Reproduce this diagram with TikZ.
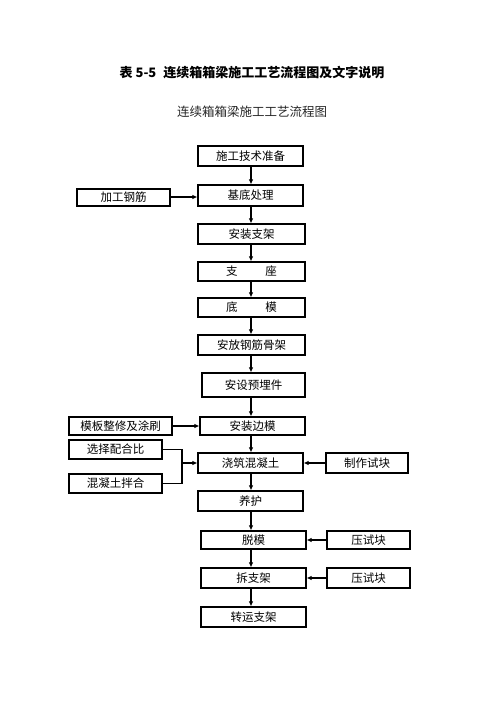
\documentclass[tikz,border=0pt]{standalone}
\usepackage{fontspec}
\setmainfont{Noto Sans CJK SC}
\newfontfamily\cjk{Noto Sans CJK SC}
\usetikzlibrary{arrows.meta}
\tikzset{
  box/.style={draw, line width=1.1pt, inner sep=0pt, font=\fontsize{11.5}{12}\selectfont},
  arr/.style={line width=1.1pt, -{Latex[length=5pt,width=4.5pt]}},
  ln/.style={line width=1.1pt}
}
\newcommand{\bx}[6]{% name, x1, y1, x2, y2, text
  \node[box, minimum width={(#4-#2)*1pt}, minimum height={(#5-#3)*1pt}] (#1) at ({(#2+#4)/2},{(#3+#5)/2}) {#6};}
\begin{document}
\begin{tikzpicture}[x=1pt,y=-1pt]
\useasboundingbox (0,0) rectangle (496,702);
\node[font=\fontsize{13}{14}\selectfont\bfseries] (title) at (252,73) {表 5-5\hspace{4pt} 连续箱箱梁施工工艺流程图及文字说明};
\node[font=\fontsize{12.5}{14}\selectfont, text=black!85] (sub) at (252,112) {连续箱箱梁施工工艺流程图};
\bx{prep}{198}{146}{303}{166}{施工技术准备}
\bx{base}{198}{185}{303}{206}{基底处理}
\bx{rebar}{77}{189}{170}{206}{加工钢筋}
\bx{frame}{198}{224}{305}{244}{安装支架}
\bx{bear}{198}{262}{305}{281}{支\hspace{28pt}座}
\bx{bot}{198}{298}{305}{317}{底\hspace{28pt}模}
\bx{cage}{198}{335}{305}{355}{安放钢筋骨架}
\bx{embed}{202}{373}{305}{397}{安设预埋件}
\bx{side}{200}{417}{305}{435}{安装边模}
\bx{tmpl}{69}{417}{172}{435}{模板整修及涂刷}
\bx{ratio}{69}{440}{162}{459}{选择配合比}
\bx{mix}{69}{474}{162}{493}{混凝土拌合}
\bx{pour}{198}{453}{303}{473}{浇筑混凝土}
\bx{spec}{326}{453}{408}{473}{制作试块}
\bx{cure}{198}{491}{303}{511}{养护}
\bx{demould}{201}{531}{306}{549}{脱模}
\bx{press1}{327}{531}{410}{549}{压试块}
\bx{remove}{201}{568}{306}{588}{拆支架}
\bx{press2}{327}{568}{410}{588}{压试块}
\bx{trans}{201}{607}{306}{627}{转运支架}
\coordinate (c1) at (251,0);
\draw[arr] (prep.south -| c1) -- (base.north -| c1);
\draw[arr] (base.south -| c1) -- (frame.north -| c1);
\draw[arr] (frame.south -| c1) -- (bear.north -| c1);
\draw[arr] (bear.south -| c1) -- (bot.north -| c1);
\draw[arr] (bot.south -| c1) -- (cage.north -| c1);
\draw[arr] (cage.south -| c1) -- (embed.north -| c1);
\draw[arr] (embed.south -| c1) -- (side.north -| c1);
\draw[arr] (side.south -| c1) -- (pour.north -| c1);
\draw[arr] (pour.south -| c1) -- (cure.north -| c1);
\draw[arr] (cure.south -| c1) -- (demould.north -| c1);
\draw[arr] (demould.south -| c1) -- (remove.north -| c1);
\draw[arr] (remove.south -| c1) -- (trans.north -| c1);
\coordinate (ry) at (0,197);
\draw[arr] (rebar.east |- ry) -- (base.west |- ry);
\draw[arr] (tmpl.east) -- (side.west |- tmpl.east);
\coordinate (bk) at (182,463);
\draw[ln] (ratio.east) -| (bk) |- (mix.east);
\draw[arr] (bk) -- (pour.west |- bk);
\draw[arr] (spec.west) -- (pour.east |- spec.west);
\draw[arr] (press1.west) -- (demould.east |- press1.west);
\draw[arr] (press2.west) -- (remove.east |- press2.west);
\end{tikzpicture}
\end{document}
